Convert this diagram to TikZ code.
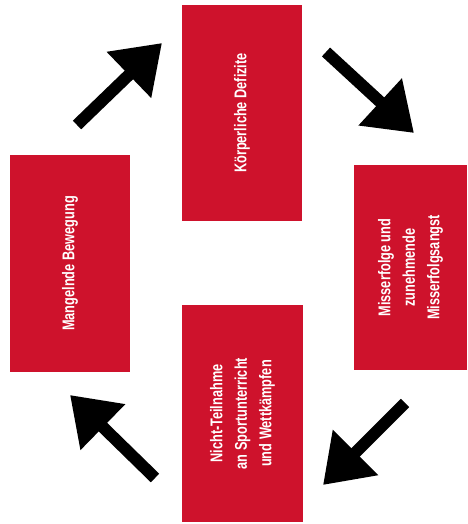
\documentclass[tikz,border=0pt]{standalone}
\usepackage{fontspec}
\setmainfont{Liberation Sans}[FakeStretch=0.75]
\usetikzlibrary{arrows.meta}
\definecolor{boxred}{RGB}{206,18,44}
\begin{document}
\begin{tikzpicture}[x=1pt,y=-1pt,
  box/.style={fill=boxred, draw=none, rotate=90, inner sep=0pt,
    text=white, font=\fontsize{17}{24.5}\selectfont\bfseries, align=center},
  bigarrow/.style={line width=12pt, draw=black,
    -{Triangle[length=46pt,width=61pt]}}]
\useasboundingbox (0,0) rectangle (467,524);
\fill[white] (0,0) rectangle (467,524);
\node[box, minimum width=216pt, minimum height=120pt] (top) at (242,113) {Körperliche Defizite};
\node[box, minimum width=205pt, minimum height=113pt] (right) at (410.5,267.5) {Misserfolge und\\zunehmende\\Misserfolgsangst};
\node[box, minimum width=217pt, minimum height=121pt] (bottom) at (242.5,413.5) {Nicht-Teilnahme\\an Sportunterricht\\und Wettkämpfen};
\node[box, minimum width=217pt, minimum height=120pt] (left) at (70,263.5) {Mangelnde Bewegung};
\coordinate (a1s) at (77,125);  \coordinate (a1e) at (162,43);
\coordinate (a2s) at (326,52);  \coordinate (a2e) at (414,133);
\coordinate (a3s) at (405,403); \coordinate (a3e) at (323,485);
\coordinate (a4s) at (155,478); \coordinate (a4e) at (70,395);
\draw[bigarrow] (a1s) -- (a1e);
\draw[bigarrow] (a2s) -- (a2e);
\draw[bigarrow] (a3s) -- (a3e);
\draw[bigarrow] (a4s) -- (a4e);
\end{tikzpicture}
\end{document}
